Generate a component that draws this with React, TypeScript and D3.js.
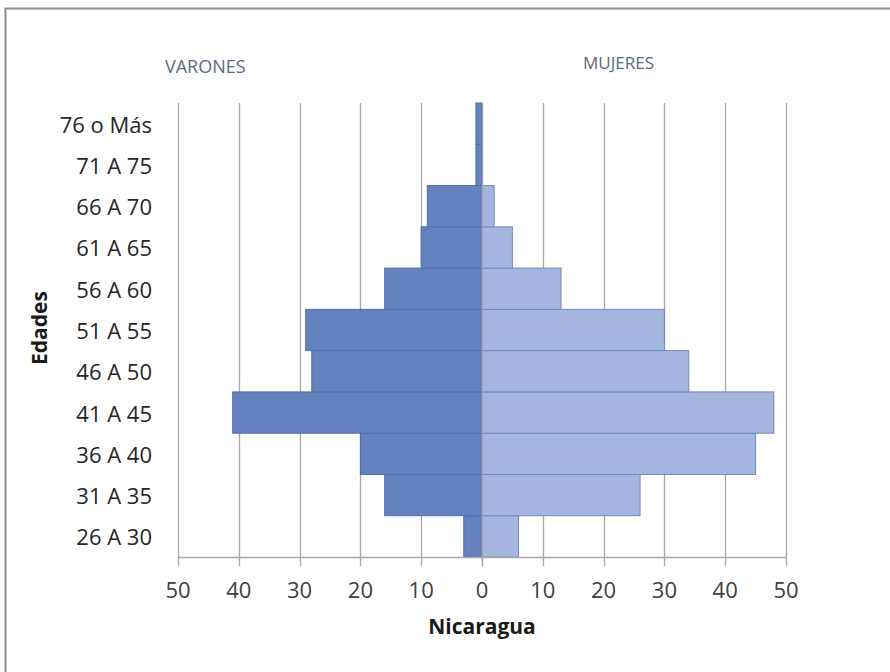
import { useEffect, useRef } from "react";
import * as d3 from "d3";

const ageGroups = [
  "26 A 30",
  "31 A 35",
  "36 A 40",
  "41 A 45",
  "46 A 50",
  "51 A 55",
  "56 A 60",
  "61 A 65",
  "66 A 70",
  "71 A 75",
  "76 o Más",
];
const varones = [3, 16, 20, 41, 28, 29, 16, 10, 9, 1, 1];
const mujeres = [6, 26, 45, 48, 34, 30, 13, 5, 2, 0, 0];
const ticks = [-50, -40, -30, -20, -10, 0, 10, 20, 30, 40, 50];

export default function App() {
  const ref = useRef<SVGSVGElement | null>(null);

  useEffect(() => {
    const width = 890;
    const height = 672;
    const margin = { top: 103, right: 104, bottom: 115, left: 178 };
    const font = "'Open Sans', 'Liberation Sans', sans-serif";

    const svg = d3.select(ref.current);
    svg.selectAll("*").remove();

    svg
      .append("rect")
      .attr("x", 5.5)
      .attr("y", 8.5)
      .attr("width", width + 10)
      .attr("height", height + 10)
      .attr("fill", "white")
      .attr("stroke", "#8c8c8c")
      .attr("stroke-width", 2);

    const x = d3
      .scaleLinear()
      .domain([-50, 50])
      .range([margin.left, width - margin.right]);

    const y = d3
      .scaleBand<string>()
      .domain(ageGroups)
      .range([height - margin.bottom, margin.top])
      .padding(0);

    // grid
    svg
      .append("g")
      .selectAll("line")
      .data(ticks)
      .join("line")
      .attr("x1", (d) => Math.round(x(d)) + 0.5)
      .attr("x2", (d) => Math.round(x(d)) + 0.5)
      .attr("y1", margin.top)
      .attr("y2", height - margin.bottom + 9)
      .attr("stroke", "#a9a9a9")
      .attr("stroke-width", 1.3);

    const rows = ageGroups.map((g, i) => ({ g, m: varones[i], f: mujeres[i] }));

    svg
      .append("g")
      .selectAll("rect")
      .data(rows)
      .join("rect")
      .attr("x", (d) => x(-d.m))
      .attr("y", (d) => y(d.g)!)
      .attr("width", (d) => x(0) - x(-d.m))
      .attr("height", y.bandwidth())
      .attr("fill", "#6483be")
      .attr("stroke", "#4f6ea9")
      .attr("stroke-width", 1);

    svg
      .append("g")
      .selectAll("rect")
      .data(rows.filter((d) => d.f > 0))
      .join("rect")
      .attr("x", x(0))
      .attr("y", (d) => y(d.g)!)
      .attr("width", (d) => x(d.f) - x(0))
      .attr("height", y.bandwidth())
      .attr("fill", "#a4b6e0")
      .attr("stroke", "#6f89c2")
      .attr("stroke-width", 1);

    // zero line and bottom axis line
    svg
      .append("line")
      .attr("x1", Math.round(x(0)) + 0.5)
      .attr("x2", Math.round(x(0)) + 0.5)
      .attr("y1", margin.top)
      .attr("y2", height - margin.bottom + 9)
      .attr("stroke", "#a6a6a6")
      .attr("stroke-width", 1.3);

    svg
      .append("line")
      .attr("x1", x(-50))
      .attr("x2", x(50))
      .attr("y1", height - margin.bottom + 0.5)
      .attr("y2", height - margin.bottom + 0.5)
      .attr("stroke", "#a6a6a6")
      .attr("stroke-width", 1.3);

    // tick labels
    svg
      .append("g")
      .selectAll("text")
      .data(ticks)
      .join("text")
      .attr("x", (d) => x(d))
      .attr("y", 598)
      .attr("text-anchor", "middle")
      .attr("font-family", font)
      .attr("font-size", 22)
      .attr("fill", "#404040")
      .text((d) => Math.abs(d));

    svg
      .append("g")
      .selectAll("text")
      .data(ageGroups)
      .join("text")
      .attr("x", 152)
      .attr("y", (d) => y(d)! + y.bandwidth() / 2 + 9)
      .attr("text-anchor", "end")
      .attr("font-family", font)
      .attr("font-size", 22)
      .attr("fill", "#262626")
      .text((d) => d);

    svg
      .append("text")
      .attr("x", x(0))
      .attr("y", 634)
      .attr("text-anchor", "middle")
      .attr("font-family", font)
      .attr("font-size", 21)
      .attr("font-weight", "bold")
      .attr("fill", "#1a1a1a")
      .text("Nicaragua");

    svg
      .append("text")
      .attr("transform", "translate(47,328) rotate(-90)")
      .attr("text-anchor", "middle")
      .attr("font-family", font)
      .attr("font-size", 21)
      .attr("font-weight", "bold")
      .attr("fill", "#1a1a1a")
      .text("Edades");

    svg
      .append("text")
      .attr("x", 165)
      .attr("y", 73)
      .attr("font-family", font)
      .attr("font-size", 18)
      .attr("fill", "#5a6a80")
      .text("VARONES");

    svg
      .append("text")
      .attr("x", 583)
      .attr("y", 69)
      .attr("font-family", font)
      .attr("font-size", 17)
      .attr("fill", "#5a6a80")
      .text("MUJERES");
  }, []);

  return (
    <svg
      ref={ref}
      width={890}
      height={672}
      style={{ position: "absolute", left: 0, top: 0 }}
    />
  );
}
